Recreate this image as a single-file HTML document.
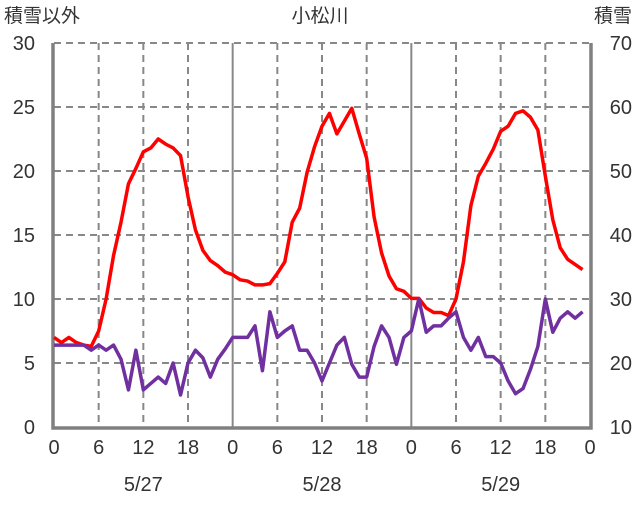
<!DOCTYPE html>
<html><head><meta charset="utf-8"><style>
body{margin:0;background:#fff}
svg text{font-family:"Liberation Sans","Noto Sans CJK JP",sans-serif;fill:#333}
</style></head><body>
<svg id="c" width="636" height="501" viewBox="0 0 636 501">
<text x="4" y="22" font-size="19">積雪以外</text>
<text x="320" y="22" font-size="19" text-anchor="middle">小松川</text>
<text x="632" y="22" font-size="19" text-anchor="end">積雪</text>
<g id="grid"></g><g id="series"></g><g id="labels"></g>
</svg>
<script>
const leftTicks=[0,5,10,15,20,25,30];
const rightTicks=[10,20,30,40,50,60,70];
const xTickLabels=["0","6","12","18","0","6","12","18","0","6","12","18","0"];
const dateLabels=["5/27","5/28","5/29"];
const snowDepth=[24,23.2,24,23.2,22.8,22.6,25,30,36.8,42,48,50.4,53,53.6,55,54.2,53.6,52.4,46,40.8,37.6,36,35.2,34.2,33.8,33,32.8,32.2,32.2,32.4,34,35.8,42,44.2,49.8,53.8,57,59,55.8,57.8,59.8,55.8,52,42.8,37.2,33.6,31.6,31.2,30.1,30.1,28.6,27.9,27.9,27.4,30,35.8,44.6,49.2,51.2,53.4,56.2,57,59,59.4,58.4,56.4,49.2,42.4,38,36.2,35.4,34.6];
const otherValues=[6.4,6.4,6.4,6.4,6.4,6.0,6.4,6.0,6.4,5.3,2.9,6.0,2.9,3.4,3.9,3.4,5.0,2.5,5.0,6.0,5.4,3.9,5.3,6.1,7.0,7.0,7.0,7.9,4.4,9.0,7.0,7.5,7.9,6.0,6.0,5.0,3.6,5.0,6.4,7.0,4.9,3.9,3.9,6.3,7.9,7.0,4.9,7.0,7.5,10,7.4,7.9,7.9,8.5,9.0,7.0,6.0,7.0,5.5,5.5,5.0,3.6,2.6,3.0,4.5,6.3,10,7.4,8.5,9.0,8.5,9.0];

const X0=54,X1=590,Y0=427,Y1=43;
const x=h=>X0+(X1-X0)*h/72;
const yL=v=>Y0-(Y0-Y1)*v/30;
const yR=v=>Y0-(Y0-Y1)*(v-10)/60;
const NS="http://www.w3.org/2000/svg";
function mk(parent,tag,attrs){const e=document.createElementNS(NS,tag);for(const k in attrs)e.setAttribute(k,attrs[k]);parent.appendChild(e);return e;}
const grid=document.getElementById('grid'),ser=document.getElementById('series'),lab=document.getElementById('labels');
leftTicks.forEach((t,i)=>{
  if(t>0){const l=mk(grid,'line',{x1:X0,x2:X1,y1:yL(t),y2:yL(t),stroke:'#888','stroke-width':2,'stroke-dasharray':'7,5'});
  
  }
  const tx=mk(lab,'text',{x:35,y:yL(t)+7,'font-size':20,'text-anchor':'end'});tx.textContent=t;
  
  
});
rightTicks.forEach(t=>{
  const tx=mk(lab,'text',{x:632,y:yR(t)+7,'font-size':20,'text-anchor':'end'});tx.textContent=t;
  
  
});
xTickLabels.forEach((t,i)=>{
  const h=i*6;
  if(i>0&&i<12){
    const solid=(h%24===0);
    const l=mk(grid,'line',{x1:x(h),x2:x(h),y1:Y1,y2:Y0,stroke:'#888','stroke-width':2});
    if(!solid)l.setAttribute('stroke-dasharray','7,5');
    
    
  }
  const tx=mk(lab,'text',{x:x(h),y:454,'font-size':20,'text-anchor':'middle'});tx.textContent=t;
  
  
});
dateLabels.forEach((d,i)=>{
  const tx=mk(lab,'text',{x:x(12+24*i),y:491,'font-size':20,'text-anchor':'middle'});tx.textContent=d;
  
  
});
const fr=mk(grid,'path',{d:`M${X0-1},${Y1} V${Y0+1} H${X1+1} V${Y1}`,fill:'none',stroke:'#808080','stroke-width':3.5});


const p1=mk(ser,'polyline',{points:snowDepth.map((v,i)=>x(i)+','+yR(v)).join(' '),fill:'none',stroke:'#ff0000','stroke-width':3.5,'stroke-linejoin':'round'});


const p2=mk(ser,'polyline',{points:otherValues.map((v,i)=>x(i)+','+yL(v)).join(' '),fill:'none',stroke:'#7030a0','stroke-width':3.5,'stroke-linejoin':'round'});


</script>
</body></html>
